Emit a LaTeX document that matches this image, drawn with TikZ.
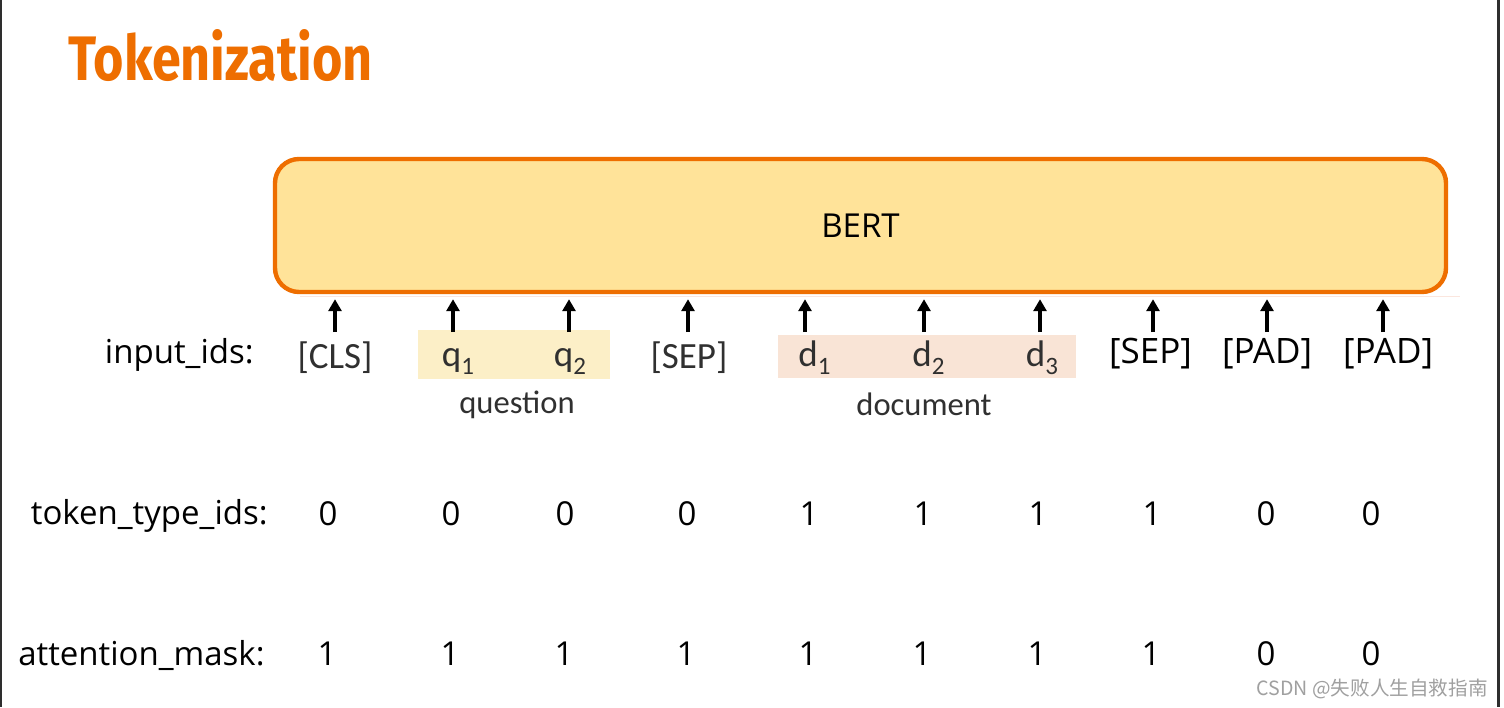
\documentclass[tikz,border=0pt]{standalone}
\usepackage{fontspec}
\setmainfont{Open Sans}
\newfontfamily\titlefont{Fira Sans}
\newfontfamily\calfont{Carlito}
\newfontfamily\cjkfont{Noto Sans CJK SC}
\usetikzlibrary{arrows.meta}
\definecolor{orng}{HTML}{EE6E00}
\definecolor{bertfill}{HTML}{FFE399}
\definecolor{qfill}{HTML}{FCEFC7}
\definecolor{dfill}{HTML}{F9E4D6}
\definecolor{imgtext}{HTML}{303030}
\definecolor{wm}{HTML}{A0A0A0}
\definecolor{framegray}{HTML}{2E2E2E}
\definecolor{faint}{HTML}{FBE6DE}
\tikzset{
  lbl/.style={anchor=base east, inner sep=0pt, font=\fontsize{16.5pt}{20pt}\selectfont},
  val/.style={anchor=base, inner sep=0pt, font=\fontsize{16.5pt}{20pt}\selectfont},
  tokL/.style={anchor=base, inner sep=0pt, text=imgtext, font=\calfont\fontsize{18.5pt}{22pt}\selectfont},
  capL/.style={anchor=base, inner sep=0pt, text=imgtext, font=\calfont\fontsize{16.3pt}{20pt}\selectfont},
  tokR/.style={anchor=base, inner sep=0pt, font=\fontsize{17.5pt}{20pt}\selectfont},
  arr/.style={-{Triangle[width=6.5pt,length=6pt]}, line width=1.8pt, shorten >=2.5pt},
  hl/.style={inner sep=0pt}
}
\newcommand{\sbs}[1]{\raisebox{-4pt}{\fontsize{12.5pt}{12pt}\selectfont #1}}
\begin{document}
\begin{tikzpicture}[x=0.5pt,y=-0.5pt]
\useasboundingbox (0,0) rectangle (1504,707);
\fill[white] (0,0) rectangle (1504,707);
\fill[framegray] (0,0) rectangle (2,707);
\fill[framegray] (1497,0) rectangle (1500,707);

% title
\node[anchor=base west, inner sep=0pt, text=orng] (title) at (68,80)
  {\resizebox{152pt}{25.5pt}{\titlefont\bfseries Tokenization}};

% BERT box
\node[draw=orng, line width=2.2pt, fill=bertfill, rounded corners=12pt,
      minimum width=585.5pt, minimum height=66.5pt, inner sep=0pt,
      font=\fontsize{16.5pt}{20pt}\selectfont] (bert) at (860.5,225.5) {BERT};
\draw[faint, line width=0.5pt] (300,296.5) -- (1460,296.5);

% highlight areas
\node[hl, fill=qfill, minimum width=96pt, minimum height=24.5pt] (qbox) at (514,354.5) {};
\node[hl, fill=dfill, minimum width=149pt, minimum height=21.5pt] (dbox) at (927,356.5) {};

% labels
\node[lbl] (l1) at (254,363) {input\_ids:};
\node[lbl] (l2) at (268,524) {token\_type\_ids:};
\node[lbl] (l3) at (265,665) {attention\_mask:};

% tokens
\node[tokL] (t1) at (335,368) {[CLS]};
\node[tokL] (t2) at (458,366) {q\sbs{1}};
\node[tokL] (t3) at (570,366) {q\sbs{2}};
\node[tokL] (t4) at (689,368) {[SEP]};
\node[tokL] (t5) at (814.5,366) {d\sbs{1}};
\node[tokL] (t6) at (928.5,366) {d\sbs{2}};
\node[tokL] (t7) at (1042,366) {d\sbs{3}};
\node[tokR] (t8) at (1150.5,363) {[SEP]};
\node[tokR] (t9) at (1267,363) {[PAD]};
\node[tokR] (t10) at (1388,363) {[PAD]};

\node[capL] (cq) at (517,413) {question};
\node[capL] (cd) at (924,415) {document};

% arrows
\foreach \i/\x in {1/335,2/453,3/569,4/688,5/805,6/924,7/1040,8/1153,9/1267,10/1383}{
  \coordinate (s\i) at (\x,332);
  \draw[arr] (s\i) -- (s\i |- bert.south);
}

% token_type_ids
\foreach \i/\x/\v in {1/328/0,2/451/0,3/565/0,4/687/0,5/809/1,6/923/1,7/1038/1,8/1152/1,9/1266/0,10/1371/0}{
  \node[val] (tt\i) at (\x,525) {\v};
}
% attention_mask
\foreach \i/\x/\v in {1/327/1,2/450/1,3/564/1,4/686/1,5/808/1,6/922/1,7/1037/1,8/1151/1,9/1266/0,10/1371/0}{
  \node[val] (am\i) at (\x,665) {\v};
}

% watermark
\node[anchor=base east, inner sep=0pt, text=wm, font=\cjkfont\fontsize{9.8pt}{10pt}\selectfont] (wmk) at (1488,695) {CSDN @失败人生自救指南};
\end{tikzpicture}
\end{document}
